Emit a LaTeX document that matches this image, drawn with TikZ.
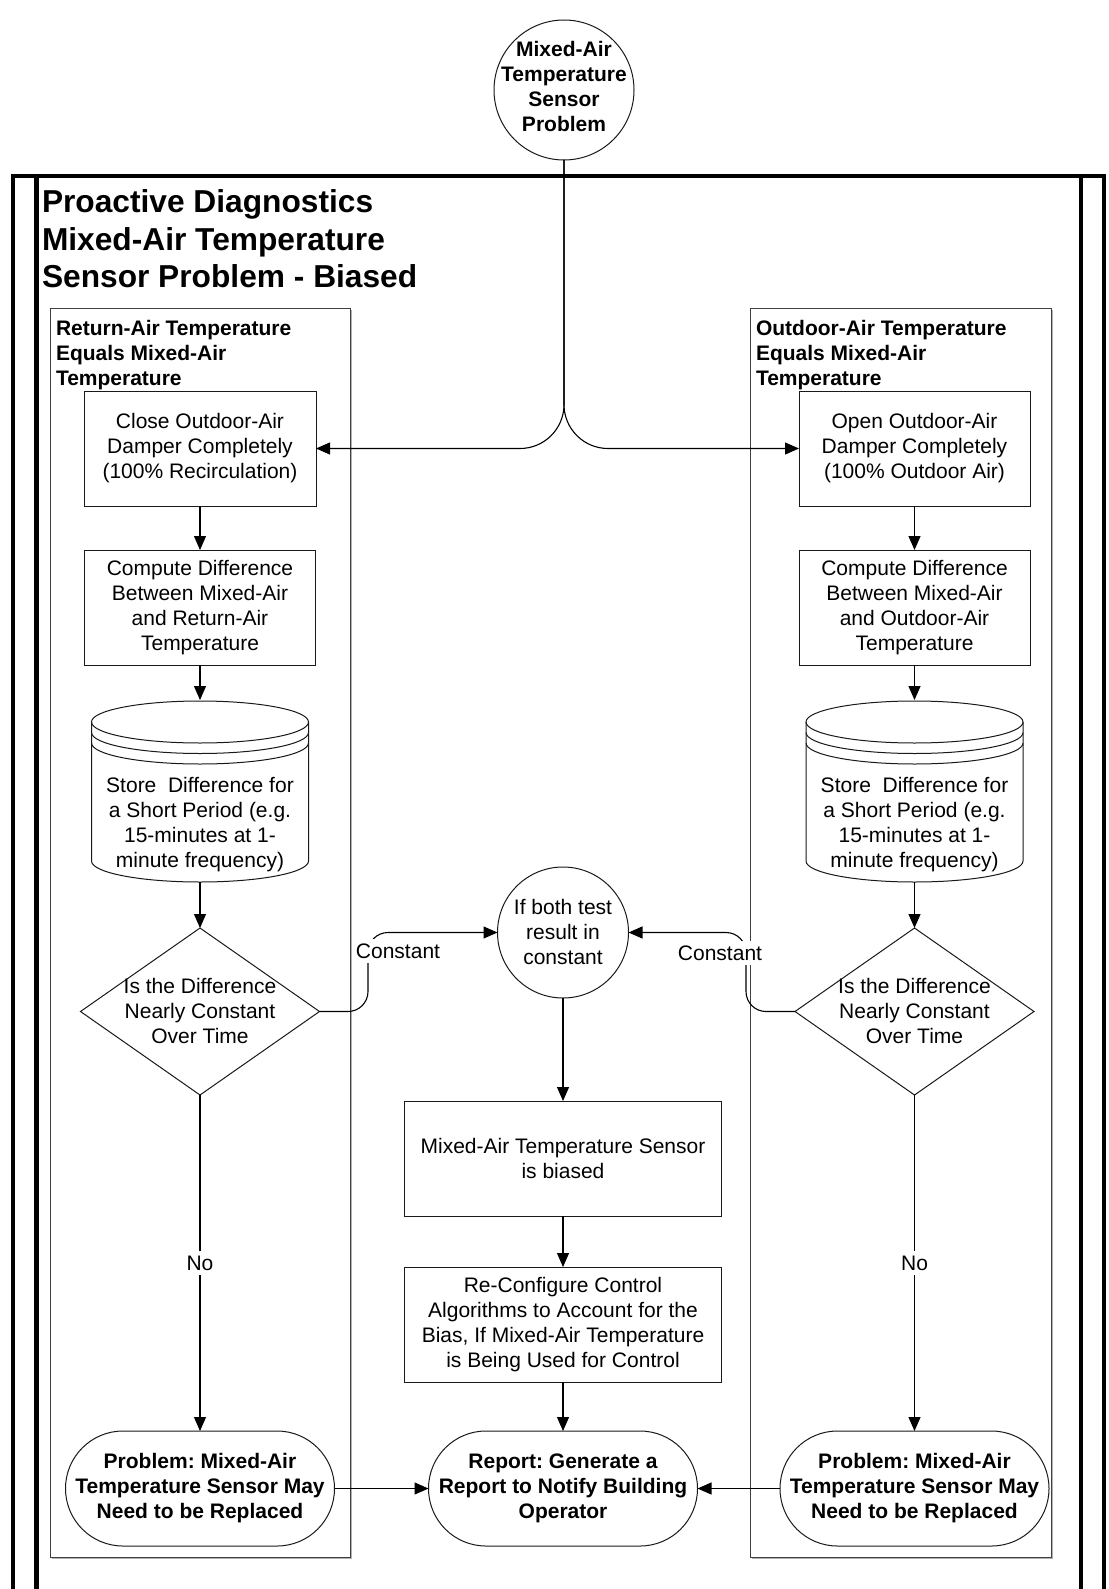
\documentclass[tikz,border=0pt]{standalone}
\usepackage{fontspec}
\setmainfont{Liberation Sans}
\usetikzlibrary{arrows.meta,shapes.geometric,shapes.misc}
\frenchspacing

\begin{document}
\begin{tikzpicture}[x=1pt,y=-1pt,
  every node/.style={inner sep=0pt, outer sep=0pt},
  rtext/.style={font=\fontsize{21}{25}\selectfont, align=center},
  btext/.style={font=\fontsize{21}{25}\selectfont\bfseries, align=center},
  procbox/.style={draw=black!90, line width=1pt, rectangle, rtext},
  decision/.style={draw=black!90, line width=1pt, diamond, minimum width=239pt, minimum height=167pt},
  terminal/.style={draw=black!90, line width=1pt, rounded rectangle, minimum width=269pt, minimum height=115pt},
  conn/.style={draw=black, line width=1.1pt, -{Triangle[length=14pt,width=12pt]}},
  lbl/.style={fill=white, inner xsep=2pt, inner ysep=5pt, rtext},
  lane/.style={draw=black!75, line width=1pt},
  frame/.style={draw=black, line width=4.5pt},
]
\useasboundingbox (0,0) rectangle (1108,1589);

% outer pool frame (open at the bottom)
\draw[frame] (13,1589) -- (13,176) -- (1104,176) -- (1104,1589);
\draw[frame] (36.5,176) -- (36.5,1589);
\draw[frame] (1081,176) -- (1081,1589);

% title
\node[anchor=north west, align=left, font=\fontsize{31.7}{37.5}\selectfont\bfseries] (title) at (42,190)
  {Proactive Diagnostics\\Mixed-Air Temperature\\Sensor Problem - Biased};

% lanes
\draw[black!30, line width=1pt] (51.5,1558.5) -- (351.5,1558.5) -- (351.5,309.5);
\draw[black!30, line width=1pt] (751.5,1558.5) -- (1052.5,1558.5) -- (1052.5,309.5);
\draw[lane] (50,308) rectangle (350,1557);
\draw[lane] (750,308) rectangle (1051,1557);
\node[anchor=north west, align=left, font=\fontsize{21}{25}\selectfont\bfseries] (laneL) at (56,320)
  {Return-Air Temperature\\Equals Mixed-Air\\Temperature};
\node[anchor=north west, align=left, font=\fontsize{21}{25}\selectfont\bfseries] (laneR) at (756,320)
  {Outdoor-Air Temperature\\Equals Mixed-Air\\Temperature};

% start event
\node[draw=black!90, line width=1pt, circle, minimum size=140pt] (start) at (564,90) {};
\node[btext] (startT) at (564,86) {Mixed-Air\\Temperature\\Sensor\\Problem};

% left column
\node[procbox, minimum width=232pt, minimum height=115pt] (closeD) at (200,448.5)
  {Close Outdoor-Air\\Damper Completely\\(100\% Recirculation)};
\node[procbox, minimum width=231pt, minimum height=115pt] (compL) at (200,607.5)
  {Compute Difference\\Between Mixed-Air\\and Return-Air\\Temperature};
\node[minimum width=217pt, minimum height=182pt] (cylL) at (200,791) {};
\node[decision] (decL) at (200,1011.5) {};
\node[rtext] (decLT) at (200,1011) {Is the Difference\\Nearly Constant\\Over Time};
\node[terminal] (termL) at (200,1488.5) {};
\node[btext] (termLT) at (200,1488) {Problem: Mixed-Air\\Temperature Sensor May\\Need to be Replaced};

% right column
\node[procbox, minimum width=231pt, minimum height=115pt] (openD) at (914.5,448.5)
  {Open Outdoor-Air\\Damper Completely\\(100\% Outdoor Air)};
\node[procbox, minimum width=231pt, minimum height=115pt] (compR) at (914.5,607.5)
  {Compute Difference\\Between Mixed-Air\\and Outdoor-Air\\Temperature};
\node[minimum width=217pt, minimum height=182pt] (cylR) at (914.5,791) {};
\node[decision] (decR) at (914.5,1011.5) {};
\node[rtext] (decRT) at (914.5,1011) {Is the Difference\\Nearly Constant\\Over Time};
\node[terminal] (termR) at (914.5,1488.5) {};
\node[btext] (termRT) at (914.5,1488) {Problem: Mixed-Air\\Temperature Sensor May\\Need to be Replaced};

% centre column
\node[draw=black!90, line width=1pt, circle, minimum size=131pt] (both) at (563,932.5) {};
\node[rtext] (bothT) at (563,932) {If both test\\result in\\constant};
\node[procbox, minimum width=317pt, minimum height=115pt] (biased) at (563,1158.5)
  {Mixed-Air Temperature Sensor\\is biased};
\node[procbox, minimum width=317pt, minimum height=115pt] (reconf) at (563,1324.5)
  {Re-Configure Control\\Algorithms to Account for the\\Bias, If Mixed-Air Temperature\\is Being Used for Control};
\node[terminal] (report) at (563,1488.5) {};
\node[btext] (reportT) at (563,1488) {Report: Generate a\\Report to Notify Building\\Operator};

% data-store cylinders
\foreach \cx in {200,914.5}{
  \draw[black!90, line width=1pt, fill=white]
    (\cx-108.5,722) -- (\cx-108.5,861)
    arc[start angle=180, end angle=360, x radius=108.5pt, y radius=21pt]
    -- (\cx+108.5,722);
  \draw[black!90, line width=1pt] (\cx,722) ellipse [x radius=108.5pt, y radius=21pt];
  \foreach \o in {10.5,21}{
    \draw[black!90, line width=1pt] (\cx-108.5,722+\o)
      arc[start angle=180, end angle=360, x radius=108.5pt, y radius=21pt];
  }
}
\node[rtext] (cylLT) at (200,824.5)
  {Store\ \ Difference for\\a Short Period (e.g.\\15-minutes at 1-\\minute frequency)};
\node[rtext] (cylRT) at (914.5,824.5)
  {Store\ \ Difference for\\a Short Period (e.g.\\15-minutes at 1-\\minute frequency)};

% connectors
\draw[conn, rounded corners=44pt] (start.south) -- (start.south |- closeD.east) -- (closeD.east);
\draw[conn, rounded corners=44pt] (start.south) -- (start.south |- openD.west) -- (openD.west);

\draw[conn] (closeD.south) -- (compL.north);
\draw[conn] (compL.south) -- (cylL.north);
\draw[conn] (cylL.south) -- (decL.north);
\draw[conn] (decL.south) -- node[lbl] (noL) {No} (termL.north);

\draw[conn] (openD.south) -- (compR.north);
\draw[conn] (compR.south) -- (cylR.north);
\draw[conn] (cylR.south) -- (decR.north);
\draw[conn] (decR.south) -- node[lbl] (noR) {No} (termR.north);

\draw[conn] (decL.east) [rounded corners=20pt] -- (368,1011.5) -- (368,932.5) [rounded corners=36pt] -- (both.west);
\draw[conn] (decR.west) [rounded corners=20pt] -- (746,1011.5) -- (746,932.5) [rounded corners=36pt] -- (both.east);
\node[lbl] (constL) at (398,951) {Constant};
\node[lbl] (constR) at (720,953) {Constant};

\draw[conn] (both.south) -- (biased.north);
\draw[conn] (biased.south) -- (reconf.north);
\draw[conn] (reconf.south) -- (report.north);
\draw[conn] (termL.east) -- (report.west);
\draw[conn] (termR.west) -- (report.east);
\end{tikzpicture}
\end{document}
